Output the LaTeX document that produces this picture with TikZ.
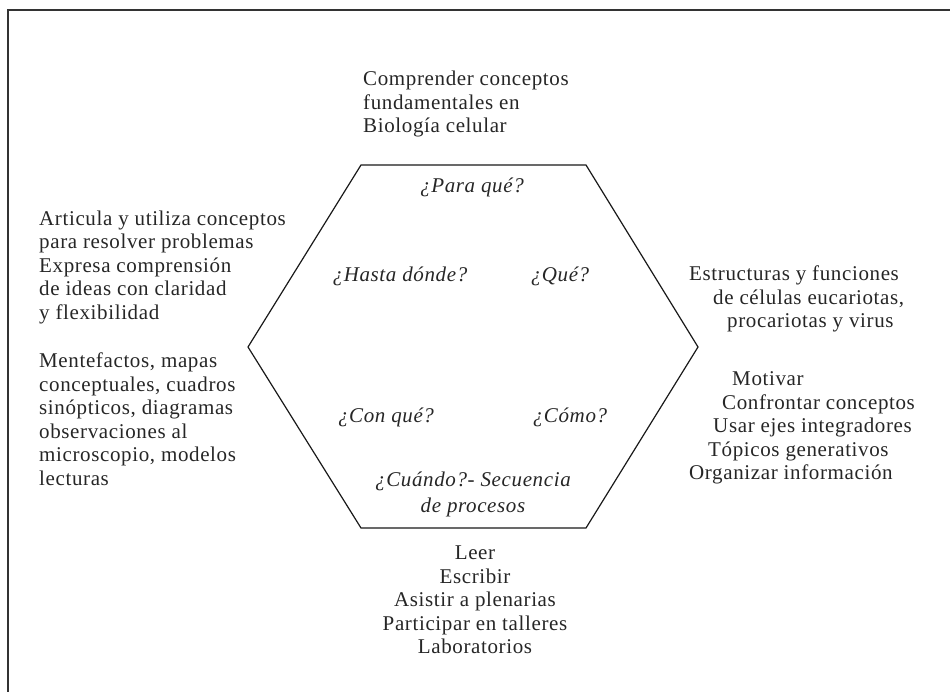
\documentclass[tikz,border=0pt]{standalone}
\usepackage{fontspec}
\setmainfont[LetterSpace=3]{Liberation Serif}
\usepackage{tikz}
\usetikzlibrary{positioning, calc}
\tikzset{text block/.style={text=black!85, font=\fontsize{21}{23.5}\selectfont, inner sep=0pt, align=left},
	question/.style={text=black!85, font=\fontsize{21}{26}\selectfont\itshape, inner sep=0pt, align=center},}

\begin{document}
\begin{tikzpicture}[x=1pt, y=-1pt, line join=miter]
			\useasboundingbox (0,0) rectangle (950,692);
			% Frame
			\begin{scope}
				\clip (0,0) rectangle (950,692);
				\draw[black!80, line width=1.5pt] (8,10) rectangle (960,700);
			\end{scope}
			% Hexagon
			\coordinate (tl) at (361,165);
			\coordinate (tr) at (586,165);
			\coordinate (r) at (698,347);
			\coordinate (br) at (586,528);
			\coordinate (bl) at (361,528);
			\coordinate (l) at (248,347);
			\draw[black!90, line width=1.2pt] (tl) -- (tr) -- (r) -- (br) -- (bl) -- (l) -- cycle;
			% Questions
			\node[question] (para) at (472,187) {¿Para qué?};
			\node[question] (hasta) at (400,276) {¿Hasta dónde?};
			\node[question] (que) at (560,276) {¿Qué?};
			\node[question] (conque) at (386,417) {¿Con qué?};
			\node[question] (como) at (570,417) {¿Cómo?};
			\node[question] (cuando) at (473,494) {¿Cuándo?- Secuencia\\de procesos};
			% Answers
			\node[text block, anchor=west] (goal) at (363,104) {Comprender conceptos\\fundamentales en\\Biología celular};
			\node[text block, anchor=west] (reach) at (39,267) {Articula y utiliza conceptos\\para resolver problemas\\Expresa comprensión\\de ideas con claridad\\y flexibilidad};
			\node[text block, anchor=west] (tools) at (39,419) {Mentefactos, mapas\\conceptuales, cuadros\\sinópticos, diagramas\\observaciones al\\microscopio, modelos\\lecturas};
			\node[text block, anchor=west] (content) at (689,299) {Estructuras y funciones\\\hspace*{24pt}de células eucariotas,\\\hspace*{38pt}procariotas y virus};
			\node[text block, anchor=west] (method) at (689,428) {\hspace*{43pt}Motivar\\\hspace*{33pt}Confrontar conceptos\\\hspace*{24pt}Usar ejes integradores\\\hspace*{19pt}Tópicos generativos\\Organizar información};
			\node[text block, align=center] (tasks) at (475,600) {Leer\\Escribir\\Asistir a plenarias\\Participar en talleres\\Laboratorios};
		\end{tikzpicture}
\end{document}
